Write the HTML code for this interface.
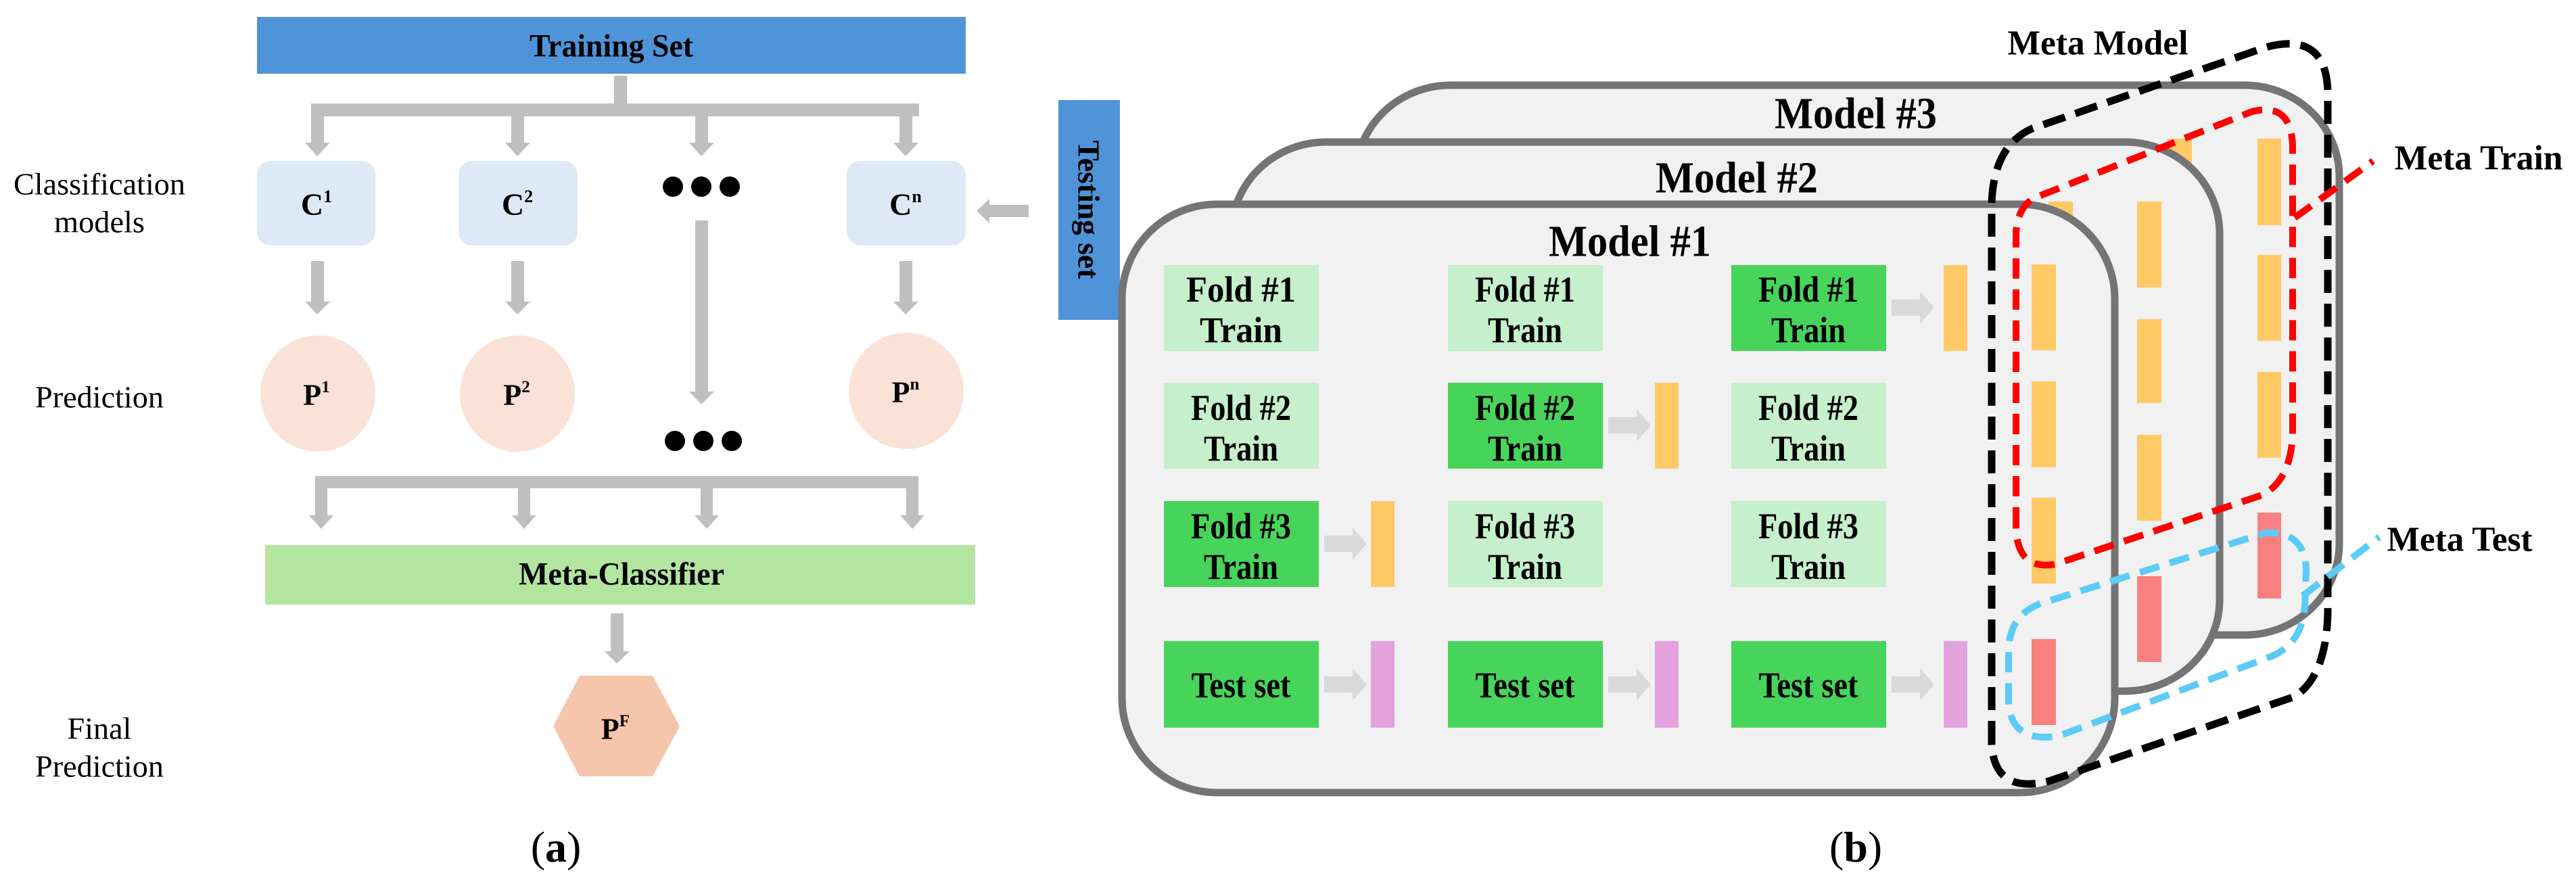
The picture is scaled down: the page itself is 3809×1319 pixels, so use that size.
<!DOCTYPE html>
<html><head><meta charset="utf-8"><style>
html,body{margin:0;padding:0;background:#fff;}
svg{display:block;font-family:"Liberation Serif","DejaVu Serif",serif;}
svg text{font-family:"Liberation Serif","DejaVu Serif",serif !important;fill:#000;}
.b{font-weight:bold;}
</style></head><body>
<svg width="3809" height="1319" viewBox="0 0 3809 1319" xmlns="http://www.w3.org/2000/svg" font-family="Liberation Serif, DejaVu Serif, serif">
<!-- ===== Panel (a) ===== -->
<rect x="380" y="25" width="1048" height="84" fill="#4f94d8"/>
<text class="b" x="904" y="68" font-size="48" text-anchor="middle" dominant-baseline="central" textLength="242" lengthAdjust="spacingAndGlyphs">Training Set</text>
<g fill="#bfbfbf">
<rect x="908" y="112" width="19" height="45"/>
<rect x="460" y="153" width="899" height="19"/>
<rect x="460" y="153" width="19" height="60"/><polygon points="451,211 488,211 469,231"/>
<rect x="756" y="153" width="19" height="60"/><polygon points="747,211 784,211 765,231"/>
<rect x="1028" y="153" width="19" height="60"/><polygon points="1019,211 1056,211 1037,231"/>
<rect x="1330" y="153" width="19" height="60"/><polygon points="1321,211 1358,211 1339,231"/>
<rect x="460" y="386" width="19" height="62"/><polygon points="451,446 488,446 469,465"/>
<rect x="756" y="386" width="19" height="62"/><polygon points="747,446 784,446 765,465"/>
<rect x="1330" y="386" width="19" height="62"/><polygon points="1321,446 1358,446 1339,465"/>
<rect x="1028" y="326" width="19" height="255"/><polygon points="1019,579 1056,579 1037,598"/>
<rect x="466" y="704" width="892" height="18"/>
<rect x="466" y="704" width="18" height="60"/><polygon points="457,762 493,762 475,782"/>
<rect x="766" y="704" width="18" height="60"/><polygon points="757,762 793,762 775,782"/>
<rect x="1036" y="704" width="18" height="60"/><polygon points="1027,762 1063,762 1045,782"/>
<rect x="1340" y="704" width="18" height="60"/><polygon points="1331,762 1367,762 1349,782"/>
<rect x="903" y="907" width="19" height="57"/><polygon points="894,963 931,963 912,981"/>
<rect x="1462" y="303" width="59" height="18"/><polygon points="1463,294 1463,330 1444,312"/>
</g>
<rect x="380" y="238" width="175" height="125" rx="20" fill="#dde9f6"/>
<rect x="678" y="238" width="176" height="125" rx="20" fill="#dde9f6"/>
<rect x="1252" y="238" width="176" height="125" rx="20" fill="#dde9f6"/>
<g font-family="Liberation Serif, DejaVu Serif, serif">
<text class="b" x="468" y="302" font-size="46" text-anchor="middle" dominant-baseline="central">C<tspan font-size="26" dy="-12">1</tspan></text>
<text class="b" x="765" y="302" font-size="46" text-anchor="middle" dominant-baseline="central">C<tspan font-size="26" dy="-12">2</tspan></text>
<text class="b" x="1339" y="302" font-size="46" text-anchor="middle" dominant-baseline="central">C<tspan font-size="26" dy="-12">n</tspan></text>
</g>
<g fill="#000">
<circle cx="995" cy="276" r="15"/><circle cx="1037" cy="276" r="15"/><circle cx="1079" cy="276" r="15"/>
<circle cx="998" cy="652" r="15"/><circle cx="1040" cy="652" r="15"/><circle cx="1082" cy="652" r="15"/>
</g>
<ellipse cx="470" cy="582" rx="85" ry="86" fill="#fae2d6"/>
<ellipse cx="765" cy="582" rx="85" ry="86" fill="#fae2d6"/>
<ellipse cx="1340" cy="578" rx="85" ry="86" fill="#fae2d6"/>
<g font-family="Liberation Serif, DejaVu Serif, serif">
<text class="b" x="468" y="584" font-size="44" text-anchor="middle" dominant-baseline="central">P<tspan font-size="25" dy="-12">1</tspan></text>
<text class="b" x="764" y="584" font-size="44" text-anchor="middle" dominant-baseline="central">P<tspan font-size="25" dy="-12">2</tspan></text>
<text class="b" x="1339" y="580" font-size="44" text-anchor="middle" dominant-baseline="central">P<tspan font-size="25" dy="-12">n</tspan></text>
</g>
<rect x="392" y="806" width="1050" height="88" fill="#b3e5a1"/>
<text class="b" x="919" y="849" font-size="48" text-anchor="middle" dominant-baseline="central" textLength="304" lengthAdjust="spacingAndGlyphs" font-family="Liberation Serif, DejaVu Serif, serif">Meta-Classifier</text>
<polygon points="857,999 965,999 1005,1074 965,1148 857,1148 818,1074" fill="#f5c6ac"/>
<g font-family="Liberation Serif, DejaVu Serif, serif">
<text class="b" x="910" y="1078" font-size="44" text-anchor="middle" dominant-baseline="central">P<tspan font-size="25" dy="-12">F</tspan></text>
<text x="147" y="272" font-size="46" text-anchor="middle" dominant-baseline="central" textLength="254" lengthAdjust="spacingAndGlyphs">Classification</text>
<text x="147" y="328" font-size="46" text-anchor="middle" dominant-baseline="central" textLength="134" lengthAdjust="spacingAndGlyphs">models</text>
<text x="147" y="587" font-size="46" text-anchor="middle" dominant-baseline="central" textLength="190" lengthAdjust="spacingAndGlyphs">Prediction</text>
<text x="147" y="1077" font-size="46" text-anchor="middle" dominant-baseline="central" textLength="95" lengthAdjust="spacingAndGlyphs">Final</text>
<text x="147" y="1133" font-size="46" text-anchor="middle" dominant-baseline="central" textLength="190" lengthAdjust="spacingAndGlyphs">Prediction</text>
<text x="822" y="1252" font-size="64" text-anchor="middle" dominant-baseline="central">(<tspan font-weight="bold">a</tspan>)</text>
</g>
<rect x="1565" y="148" width="91" height="325" fill="#4f94d8"/>
<text class="b" transform="translate(1610,310) rotate(90)" font-size="46" text-anchor="middle" dominant-baseline="central" textLength="205" lengthAdjust="spacingAndGlyphs" font-family="Liberation Serif, DejaVu Serif, serif">Testing set</text>

<!-- ===== Panel (b) ===== -->
<rect x="2005" y="126" width="1454" height="813" rx="140" ry="135" fill="#f1f1f1" stroke="#747474" stroke-width="11"/>
<text class="b" x="2744" y="168" font-size="66" text-anchor="middle" dominant-baseline="central" textLength="240" lengthAdjust="spacingAndGlyphs" font-family="Liberation Serif, DejaVu Serif, serif">Model #3</text>
<g fill="#ffc966">
<rect x="3205" y="205" width="36" height="60"/>
<rect x="3338" y="205" width="35" height="128"/><rect x="3338" y="377" width="35" height="127"/><rect x="3338" y="550" width="35" height="127"/>
</g>
<rect x="3338" y="758" width="35" height="127" fill="#f98080"/>
<rect x="1821" y="210" width="1461" height="812" rx="140" ry="135" fill="#f1f1f1" stroke="#747474" stroke-width="11"/>
<text class="b" x="2568" y="263" font-size="66" text-anchor="middle" dominant-baseline="central" textLength="240" lengthAdjust="spacingAndGlyphs" font-family="Liberation Serif, DejaVu Serif, serif">Model #2</text>
<g fill="#ffc966">
<rect x="3029" y="298" width="36" height="60"/>
<rect x="3160" y="298" width="36" height="127"/><rect x="3160" y="472" width="36" height="124"/><rect x="3160" y="643" width="36" height="127"/>
</g>
<rect x="3160" y="852" width="36" height="127" fill="#f98080"/>
<rect x="1659" y="302" width="1468" height="870" rx="140" ry="140" fill="#f1f1f1" stroke="#747474" stroke-width="11"/>
<text class="b" x="2410" y="357" font-size="66" text-anchor="middle" dominant-baseline="central" textLength="240" lengthAdjust="spacingAndGlyphs" font-family="Liberation Serif, DejaVu Serif, serif">Model #1</text>
<g>
<rect x="1721" y="392" width="229" height="127" fill="#c6efcb"/>
<rect x="2141" y="392" width="229" height="127" fill="#c6efcb"/>
<rect x="2560" y="392" width="229" height="127" fill="#47d45a"/>
<rect x="1721" y="566" width="229" height="127" fill="#c6efcb"/>
<rect x="2141" y="566" width="229" height="127" fill="#47d45a"/>
<rect x="2560" y="566" width="229" height="127" fill="#c6efcb"/>
<rect x="1721" y="741" width="229" height="127" fill="#47d45a"/>
<rect x="2141" y="741" width="229" height="127" fill="#c6efcb"/>
<rect x="2560" y="741" width="229" height="127" fill="#c6efcb"/>
<rect x="1721" y="948" width="229" height="128" fill="#47d45a"/>
<rect x="2141" y="948" width="229" height="128" fill="#47d45a"/>
<rect x="2560" y="948" width="229" height="128" fill="#47d45a"/>
</g>
<g font-size="54" text-anchor="middle" font-weight="bold" font-family="Liberation Serif, DejaVu Serif, serif">
<text x="1835" y="428" dominant-baseline="central" textLength="162" lengthAdjust="spacingAndGlyphs">Fold #1</text>
<text x="1835" y="488" dominant-baseline="central" textLength="122" lengthAdjust="spacingAndGlyphs">Train</text>
<text x="2255" y="428" dominant-baseline="central" textLength="148" lengthAdjust="spacingAndGlyphs">Fold #1</text>
<text x="2255" y="488" dominant-baseline="central" textLength="110" lengthAdjust="spacingAndGlyphs">Train</text>
<text x="2674" y="428" dominant-baseline="central" textLength="148" lengthAdjust="spacingAndGlyphs">Fold #1</text>
<text x="2674" y="488" dominant-baseline="central" textLength="110" lengthAdjust="spacingAndGlyphs">Train</text>
<text x="1835" y="603" dominant-baseline="central" textLength="148" lengthAdjust="spacingAndGlyphs">Fold #2</text>
<text x="1835" y="663" dominant-baseline="central" textLength="110" lengthAdjust="spacingAndGlyphs">Train</text>
<text x="2255" y="603" dominant-baseline="central" textLength="148" lengthAdjust="spacingAndGlyphs">Fold #2</text>
<text x="2255" y="663" dominant-baseline="central" textLength="110" lengthAdjust="spacingAndGlyphs">Train</text>
<text x="2674" y="603" dominant-baseline="central" textLength="148" lengthAdjust="spacingAndGlyphs">Fold #2</text>
<text x="2674" y="663" dominant-baseline="central" textLength="110" lengthAdjust="spacingAndGlyphs">Train</text>
<text x="1835" y="778" dominant-baseline="central" textLength="148" lengthAdjust="spacingAndGlyphs">Fold #3</text>
<text x="1835" y="838" dominant-baseline="central" textLength="110" lengthAdjust="spacingAndGlyphs">Train</text>
<text x="2255" y="778" dominant-baseline="central" textLength="148" lengthAdjust="spacingAndGlyphs">Fold #3</text>
<text x="2255" y="838" dominant-baseline="central" textLength="110" lengthAdjust="spacingAndGlyphs">Train</text>
<text x="2674" y="778" dominant-baseline="central" textLength="148" lengthAdjust="spacingAndGlyphs">Fold #3</text>
<text x="2674" y="838" dominant-baseline="central" textLength="110" lengthAdjust="spacingAndGlyphs">Train</text>
<text x="1835" y="1013" dominant-baseline="central" textLength="147" lengthAdjust="spacingAndGlyphs">Test set</text>
<text x="2255" y="1013" dominant-baseline="central" textLength="147" lengthAdjust="spacingAndGlyphs">Test set</text>
<text x="2674" y="1013" dominant-baseline="central" textLength="147" lengthAdjust="spacingAndGlyphs">Test set</text>
</g>
<g fill="#d9d9d9">
<path d="M1958,792 h42 v-12 l21,24 l-21,24 v-12 h-42z"/>
<path d="M2378,617 h42 v-12 l21,24 l-21,24 v-12 h-42z"/>
<path d="M2797,443 h42 v-12 l21,24 l-21,24 v-12 h-42z"/>
<path d="M1958,1000 h42 v-12 l21,24 l-21,24 v-12 h-42z"/>
<path d="M2378,1000 h42 v-12 l21,24 l-21,24 v-12 h-42z"/>
<path d="M2797,1000 h42 v-12 l21,24 l-21,24 v-12 h-42z"/>
</g>
<g fill="#ffc966">
<rect x="2027" y="741" width="35" height="127"/>
<rect x="2447" y="566" width="35" height="127"/>
<rect x="2874" y="392" width="35" height="127"/>
<rect x="3004" y="391" width="36" height="127"/><rect x="3004" y="564" width="36" height="127"/><rect x="3004" y="736" width="36" height="127"/>
</g>
<g fill="#e3a1de">
<rect x="2027" y="948" width="35" height="128"/>
<rect x="2447" y="948" width="35" height="128"/>
<rect x="2874" y="948" width="35" height="128"/>
</g>
<rect x="3004" y="945" width="36" height="127" fill="#f98080"/>
<path d="M2945,1100 L2945,300 Q2948,215 3005,190 L3350,70 Q3442,45 3442,140 L3442,905 Q3440,1000 3393,1030 L3030,1155 Q2949,1175 2945,1100 Z" fill="none" stroke="#000" stroke-width="11" stroke-dasharray="34,16"/>
<path d="M2981,780 L2981,345 Q2983,305 3010,292 L3330,165 Q3390,150 3390,220 L3390,640 Q3388,710 3345,732 L3040,834 Q2983,845 2981,780 Z" fill="none" stroke="#ff0000" stroke-width="10" stroke-dasharray="30,16"/>
<line x1="3393" y1="322" x2="3509" y2="238" stroke="#ff0000" stroke-width="10" stroke-dasharray="30,16"/>
<path d="M2970,1040 L2970,960 Q2972,905 3025,890 L3350,788 Q3408,785 3410,842 L3408,895 Q3405,950 3360,970 L3045,1088 Q2975,1100 2970,1040 Z" fill="none" stroke="#5ccbf7" stroke-width="10" stroke-dasharray="30,16"/>
<line x1="3405" y1="881" x2="3518" y2="794" stroke="#5ccbf7" stroke-width="10" stroke-dasharray="30,16"/>
<g font-family="Liberation Serif, DejaVu Serif, serif">
<text class="b" x="3102" y="64" font-size="52" text-anchor="middle" dominant-baseline="central" textLength="267" lengthAdjust="spacingAndGlyphs">Meta Model</text>
<text class="b" x="3665" y="234" font-size="52" text-anchor="middle" dominant-baseline="central" textLength="249" lengthAdjust="spacingAndGlyphs">Meta Train</text>
<text class="b" x="3637" y="798" font-size="52" text-anchor="middle" dominant-baseline="central" textLength="215" lengthAdjust="spacingAndGlyphs">Meta Test</text>
<text x="2744" y="1252" font-size="64" text-anchor="middle" dominant-baseline="central">(<tspan font-weight="bold">b</tspan>)</text>
</g>
</svg>
</body></html>
